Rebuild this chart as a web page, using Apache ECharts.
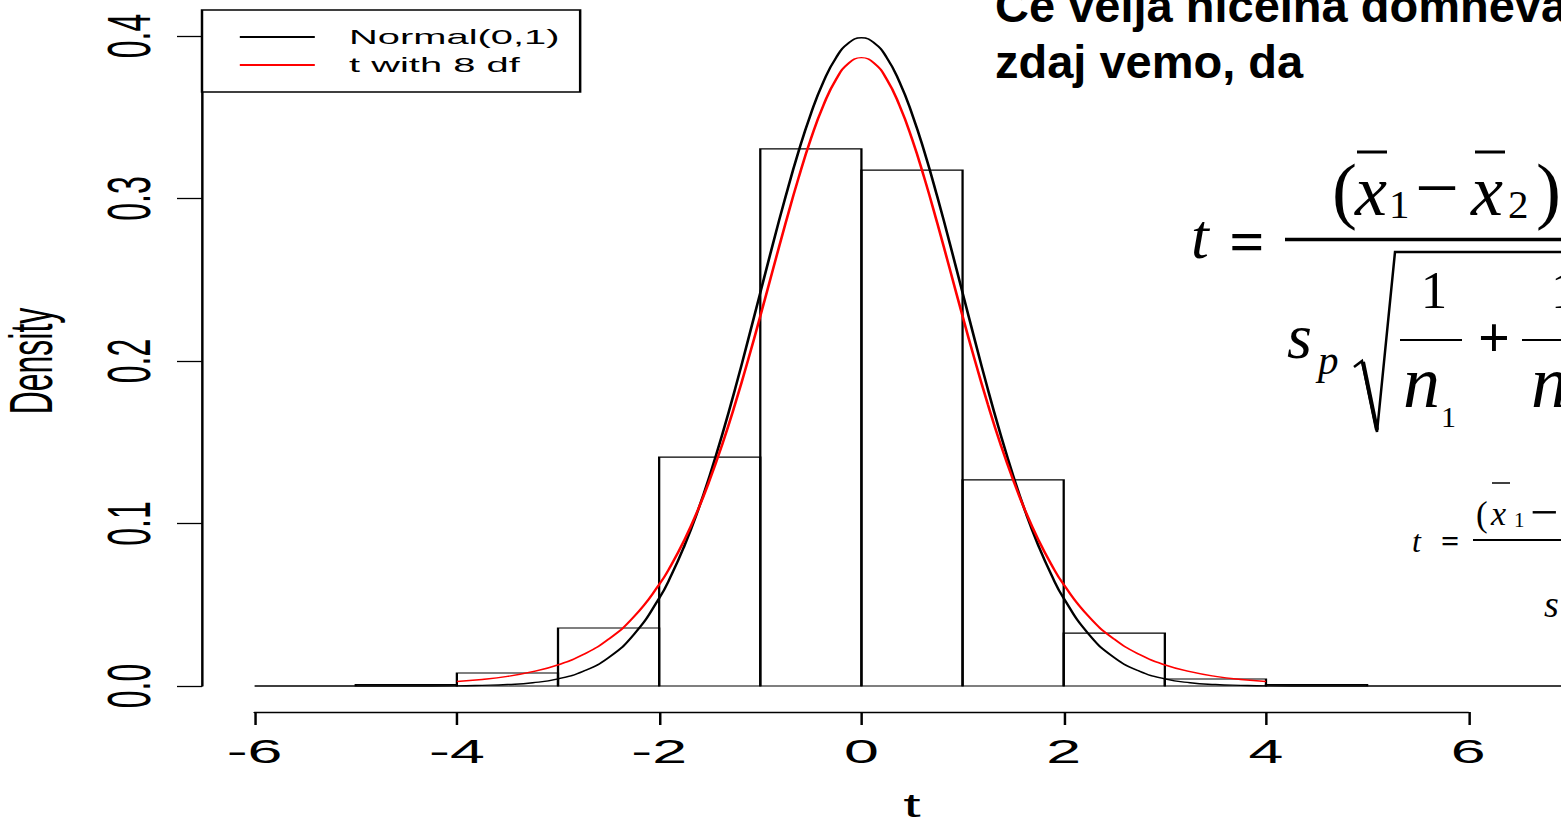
<!DOCTYPE html>
<html><head><meta charset="utf-8">
<script src="https://cdn.jsdelivr.net/npm/echarts@6/dist/echarts.min.js"></script>
<style>
html,body{margin:0;padding:0;background:#fff;overflow:hidden;}
#wrap{position:relative;width:1561px;height:821px;overflow:hidden;background:#fff;}
#plot{position:absolute;left:0;top:0;height:821px;transform-origin:0 0;}
#slide{position:absolute;left:0;top:0;width:1561px;height:821px;}
</style></head><body>
<div id="wrap"><div id="plot"></div><div id="slide"></div></div>
<script>
// ---------------- data ----------------
const binEdges   = [-5, -4, -3, -2, -1, 0, 1, 2, 3, 4, 5];
const binDensity = [0.0008, 0.0080, 0.0357, 0.1409, 0.3305, 0.3175, 0.1268, 0.0326, 0.0043, 0.0008];

const normalX = [-6, -5, -4.5, -4, -3.75, -3.5, -3.25, -3, -2.75, -2.5, -2.25,
                 -2, -1.875, -1.75, -1.625, -1.5, -1.375, -1.25, -1.125, -1, -0.875, -0.75, -0.625, -0.5, -0.375, -0.25, -0.125, 0,
                 0.125, 0.25, 0.375, 0.5, 0.625, 0.75, 0.875, 1, 1.125, 1.25, 1.375, 1.5, 1.625, 1.75, 1.875, 2,
                 2.25, 2.5, 2.75, 3, 3.25, 3.5, 3.75, 4, 4.5, 5, 6, 7];
const normalY = [0, 0, 0, 0.0001, 0.0004, 0.0009, 0.0020, 0.0044, 0.0091, 0.0175, 0.0317,
                 0.0540, 0.0688, 0.0863, 0.1065, 0.1295, 0.1550, 0.1826, 0.2119, 0.2420, 0.2721, 0.3011, 0.3282, 0.3521, 0.3719, 0.3867, 0.3958, 0.3989,
                 0.3958, 0.3867, 0.3719, 0.3521, 0.3282, 0.3011, 0.2721, 0.2420, 0.2119, 0.1826, 0.1550, 0.1295, 0.1065, 0.0863, 0.0688, 0.0540,
                 0.0317, 0.0175, 0.0091, 0.0044, 0.0020, 0.0009, 0.0004, 0.0001, 0, 0, 0, 0];

const tX = [-4, -3.75, -3.5, -3.25, -3, -2.75, -2.5, -2.25,
            -2, -1.875, -1.75, -1.625, -1.5, -1.375, -1.25, -1.125, -1, -0.875, -0.75, -0.625, -0.5, -0.375, -0.25, -0.125, 0,
            0.125, 0.25, 0.375, 0.5, 0.625, 0.75, 0.875, 1, 1.125, 1.25, 1.375, 1.5, 1.625, 1.75, 1.875, 2,
            2.25, 2.5, 2.75, 3, 3.25, 3.5, 3.75, 4];
const tY = [0.0028, 0.0040, 0.0059, 0.0088, 0.0130, 0.0194, 0.0288, 0.0426,
            0.0624, 0.0751, 0.0899, 0.1071, 0.1268, 0.1489, 0.1733, 0.1997, 0.2276, 0.2563, 0.2848, 0.3120, 0.3367, 0.3575, 0.3734, 0.3833, 0.3867,
            0.3833, 0.3734, 0.3575, 0.3367, 0.3120, 0.2848, 0.2563, 0.2276, 0.1997, 0.1733, 0.1489, 0.1268, 0.1071, 0.0899, 0.0751, 0.0624,
            0.0426, 0.0288, 0.0194, 0.0130, 0.0088, 0.0059, 0.0040, 0.0028];

const xTickRange = [-6, 6];   const xTickStep = 2;
const yTickRange = [0, 0.4];  const yTickStep = 0.1;
const seriesNames = ['Normal(0,1)', 't with 8 df'];
const xLabel = 't';
const yLabel = 'Density';
const headingLines = ['Če velja ničelna domneva', 'zdaj vemo, da'];

// ---------------- layout (the R plot image is stretched horizontally) ----------------
const W = 1561, H = 821, SX = 1.9;
const L = 202, R = 1622, T = 10, B = 712;           // plot region in page pixels
const XMIN = -6.52, XMAX = 7.52, YMIN = -0.016, YMAX = 0.416;
const xReal = v => L + (v - XMIN) / (XMAX - XMIN) * (R - L);
const yReal = v => T + (YMAX - v) / (YMAX - YMIN) * (B - T);

const plotDiv = document.getElementById('plot');
plotDiv.style.width = (W / SX) + 'px';
plotDiv.style.transform = 'scaleX(' + SX + ')';

const SANS = "'Liberation Sans', Arial, Helvetica, sans-serif";
const black = '#000';

const chart = echarts.init(plotDiv, null, {renderer: 'svg'});
chart.setOption({
  animation: false,
  backgroundColor: '#fff',
  grid: [
    {left: L / SX, top: T, width: (R - L) / SX, height: B - T, containLabel: false, outerBoundsMode: 'none'},
    {left: xReal(xTickRange[0]) / SX, width: (xReal(xTickRange[1]) - xReal(xTickRange[0])) / SX, top: B - 1, height: 1, containLabel: false, outerBoundsMode: 'none'},
    {left: L / SX, width: 1, top: yReal(yTickRange[1]), height: yReal(yTickRange[0]) - yReal(yTickRange[1]), containLabel: false, outerBoundsMode: 'none'}
  ],
  xAxis: [
    {gridIndex: 0, type: 'value', min: XMIN, max: XMAX,
     axisLine: {show: false}, axisTick: {show: false}, axisLabel: {show: false}, splitLine: {show: false},
     name: xLabel, nameLocation: 'middle', nameGap: 80, nameMoveOverlap: false,
     nameTextStyle: {fontSize: 33, lineHeight: 27, fontFamily: SANS, color: black}},
    {gridIndex: 1, type: 'value', min: xTickRange[0], max: xTickRange[1], interval: xTickStep, position: 'bottom',
     axisLine: {show: true, onZero: false, lineStyle: {color: black, width: 1.3}},
     axisTick: {show: true, inside: false, length: 13, lineStyle: {color: black, width: 1.3}},
     axisLabel: {show: true, margin: 23, fontSize: 33, fontFamily: SANS, color: black, showMinLabel: true, showMaxLabel: true},
     splitLine: {show: false}},
    {gridIndex: 2, type: 'value', show: false, min: 0, max: 1}
  ],
  yAxis: [
    {gridIndex: 0, type: 'value', show: false, min: YMIN, max: YMAX},
    {gridIndex: 1, type: 'value', show: false, min: 0, max: 1},
    {gridIndex: 2, type: 'value', min: yTickRange[0], max: yTickRange[1], interval: yTickStep, position: 'left',
     axisLine: {show: true, onZero: false, lineStyle: {color: black, width: 1.3}},
     axisTick: {show: true, inside: false, length: 25 / SX, lineStyle: {color: black, width: 1.3}},
     axisLabel: {show: true, rotate: 90, margin: 22.5, fontSize: 32, fontFamily: SANS, color: black,
                 formatter: v => v.toFixed(1), showMinLabel: true, showMaxLabel: true},
     splitLine: {show: false},
     name: yLabel, nameLocation: 'middle', nameRotate: 90, nameGap: 76, nameMoveOverlap: false,
     nameTextStyle: {fontSize: 32, lineHeight: 28, fontFamily: SANS, color: black}}
  ],
  legend: {
    show: true, data: seriesNames, orient: 'vertical', left: L / SX, top: T,
    padding: [16.5, 10.8, 16.5, 18.9], itemGap: 7, itemWidth: 75 / SX, itemHeight: 14,
    borderColor: black, borderWidth: 1.3, borderRadius: 0, backgroundColor: '#fff',
    selectedMode: false,
    itemStyle: {opacity: 0, borderWidth: 0},
    textStyle: {fontSize: 21, fontFamily: SANS, color: black, padding: [0, 0, 0, 13]}
  },
  series: [
    {type: 'custom', name: 'hist', xAxisIndex: 0, yAxisIndex: 0, z: 2,
     data: binDensity.map((d, i) => [binEdges[i], binEdges[i + 1], d]),
     encode: {x: [0, 1], y: 2},
     renderItem: function (params, api) {
       const p0 = api.coord([api.value(0), api.value(2)]);
       const p1 = api.coord([api.value(1), 0]);
       return {type: 'rect', shape: {x: p0[0], y: p0[1], width: p1[0] - p0[0], height: p1[1] - p0[1]},
               style: {fill: 'none', stroke: black, lineWidth: 1.2}};
     }},
    {type: 'line', name: seriesNames[0], xAxisIndex: 0, yAxisIndex: 0, z: 3,
     data: normalX.map((x, i) => [x, normalY[i]]), symbol: 'none', smooth: 0.5,
     lineStyle: {color: black, width: 1.4}, itemStyle: {color: black}},
    {type: 'line', name: seriesNames[1], xAxisIndex: 0, yAxisIndex: 0, z: 4,
     data: tX.map((x, i) => [x, tY[i]]), symbol: 'none', smooth: 0.5,
     lineStyle: {color: '#ff0000', width: 1.4}, itemStyle: {color: '#ff0000'}}
  ]
});

// ---------------- slide text (not stretched) ----------------
const SERIF = "'Liberation Serif', 'Times New Roman', serif";
function txt(s, x, baseline, size, o) {
  o = o || {};
  return {type: 'text', x: x, y: baseline - 0.34 * size, z: 10,
    style: {text: s, fontSize: size, fontFamily: o.family || SERIF, fontStyle: o.italic ? 'italic' : 'normal',
            fontWeight: o.bold ? 'bold' : 'normal', fill: black,
            align: o.align || 'left', verticalAlign: 'middle', textAlign: o.align || 'left', textVerticalAlign: 'middle'}};
}
function ln(x1, y1, x2, y2, w) {
  return {type: 'line', z: 10, shape: {x1: x1, y1: y1, x2: x2, y2: y2}, style: {stroke: black, lineWidth: w}};
}
const els = [
  txt(headingLines[0], 995, 21, 47, {family: SANS, bold: true}),
  txt(headingLines[1], 995, 77, 47, {family: SANS, bold: true}),
  // large formula
  txt('t', 1191, 258, 64, {italic: true}),
  txt('=', 1247, 262, 62, {bold: true, align: 'center'}),
  txt('(', 1332, 214.5, 75),
  txt('x', 1355, 215, 72, {italic: true}),
  txt('1', 1389, 218, 41),
  txt('\u2212', 1437, 214.5, 78, {align: 'center'}),
  txt('x', 1471, 215, 72, {italic: true}),
  txt('2', 1508, 218, 41),
  txt(')', 1536, 214.5, 75),
  ln(1357, 152, 1387, 152, 3),
  ln(1475, 152, 1505, 152, 3),
  ln(1285, 239.5, 1620, 239.5, 3.5),
  txt('s', 1287, 358, 64, {italic: true}),
  txt('p', 1318, 374, 41, {italic: true}),
  {type: 'polyline', z: 10, shape: {points: [[1354, 367], [1362, 361], [1377, 432], [1395, 252], [1620, 252]]},
   style: {stroke: black, lineWidth: 2.5, fill: 'none'}},
  ln(1363, 362, 1377, 430, 4),
  txt('1', 1434, 308, 53, {align: 'center'}),
  ln(1400, 340, 1462, 340, 2),
  txt('n', 1403, 407, 74, {italic: true}),
  txt('1', 1441, 427, 30),
  txt('+', 1494, 357, 56, {bold: true, align: 'center'}),
  ln(1522, 340, 1620, 340, 2),
  txt('1', 1551, 308, 53),
  txt('n', 1531, 407, 74, {italic: true}),
  // small formula
  txt('t', 1412, 552, 32, {italic: true}),
  txt('=', 1450, 551.7, 32, {bold: true, align: 'center'}),
  ln(1473, 540, 1620, 540, 2),
  txt('(', 1476, 526, 35),
  ln(1492, 483, 1510, 483, 1.5),
  txt('x', 1491, 525, 34, {italic: true}),
  txt('1', 1514, 527, 21),
  txt('\u2212', 1530, 528.5, 50),
  txt('s', 1544, 617, 38, {italic: true})
];
const slide = echarts.init(document.getElementById('slide'), null, {renderer: 'svg'});
slide.setOption({animation: false, backgroundColor: 'transparent', graphic: {elements: els}});
</script>
</body></html>
